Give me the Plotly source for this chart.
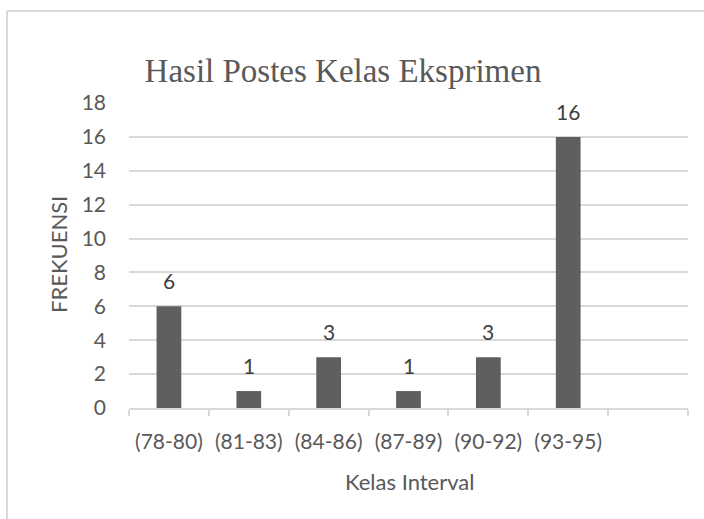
import plotly.graph_objects as go

categories = ["(78-80)", "(81-83)", "(84-86)", "(87-89)", "(90-92)", "(93-95)"]
frequencies = [6, 1, 3, 1, 3, 16]
empty_slot = [" "]
y_ticks = [0, 2, 4, 6, 8, 10, 12, 14, 16, 18]

title_text = "Hasil Postes Kelas Eksprimen"
x_title = "Kelas Interval"
y_title = "FREKUENSI"

W, H = 704, 519
L, R, T, B = 129, 16, 103, 111
pw, ph = W - L - R, H - T - B

def px_x(p):
    return (p - L) / pw

def px_y(p):
    return (H - B - p) / ph

text_color = "#595959"
grid_color = "#d9d9d9"
sans = "Lato, 'Open Sans', sans-serif"

fig = go.Figure(
    go.Bar(
        x=categories,
        y=frequencies,
        marker=dict(color="#5f5f5f", line=dict(width=0)),
        width=0.31,
        hoverinfo="x+y",
    )
)

for c, v in zip(categories, frequencies):
    fig.add_annotation(
        x=c, y=v, text=str(v), showarrow=False, yanchor="bottom", yshift=11,
        font=dict(family=sans, size=21, color="#404040"),
    )

fig.add_annotation(
    xref="paper", yref="paper", x=px_x(409), y=px_y(481), text=x_title,
    showarrow=False, xanchor="center", yanchor="middle",
    font=dict(family=sans, size=22, color=text_color),
)
fig.add_annotation(
    xref="paper", yref="paper", x=px_x(58), y=px_y(255), text=y_title,
    showarrow=False, xanchor="center", yanchor="middle", textangle=-90,
    font=dict(family=sans, size=22, color=text_color),
)

# chart border (left and top edges visible in the crop)
fig.add_shape(type="line", xref="paper", yref="paper",
              x0=px_x(7), x1=px_x(7), y0=px_y(11), y1=px_y(530),
              line=dict(color=grid_color, width=2))
fig.add_shape(type="line", xref="paper", yref="paper",
              x0=px_x(7), x1=px_x(720), y0=px_y(11), y1=px_y(11),
              line=dict(color=grid_color, width=2))

fig.update_layout(
    width=W, height=H,
    margin=dict(l=L, r=R, t=T, b=B, pad=0),
    paper_bgcolor="white", plot_bgcolor="white",
    showlegend=False,
    title=dict(
        text=title_text, x=343 / W, xanchor="center", y=1 - 70 / H, yanchor="middle",
        xref="container", yref="container",
        font=dict(family="'Liberation Serif', 'Times New Roman', serif", size=33, color=text_color),
    ),
    xaxis=dict(
        type="category", categoryorder="array", categoryarray=categories + empty_slot,
        range=[-0.5, 6.5], tickson="boundaries", ticks="outside", ticklen=6,
        tickcolor=grid_color, tickwidth=1.5, showline=True, linecolor=grid_color, linewidth=1.5,
        showgrid=False, zeroline=False, ticklabelstandoff=14,
        tickfont=dict(family=sans, size=21, color=text_color),
    ),
    yaxis=dict(
        range=[0, 18], tickvals=y_ticks, showgrid=True, gridcolor=grid_color, gridwidth=1.5,
        zeroline=False, showline=False, ticks="", ticklabelstandoff=22,
        tickfont=dict(family=sans, size=21, color=text_color),
    ),
)

fig.write_html(
    "out.html",
    config={"displayModeBar": False},
    post_script="document.body.style.margin='0';document.body.style.overflow='hidden';",
)
